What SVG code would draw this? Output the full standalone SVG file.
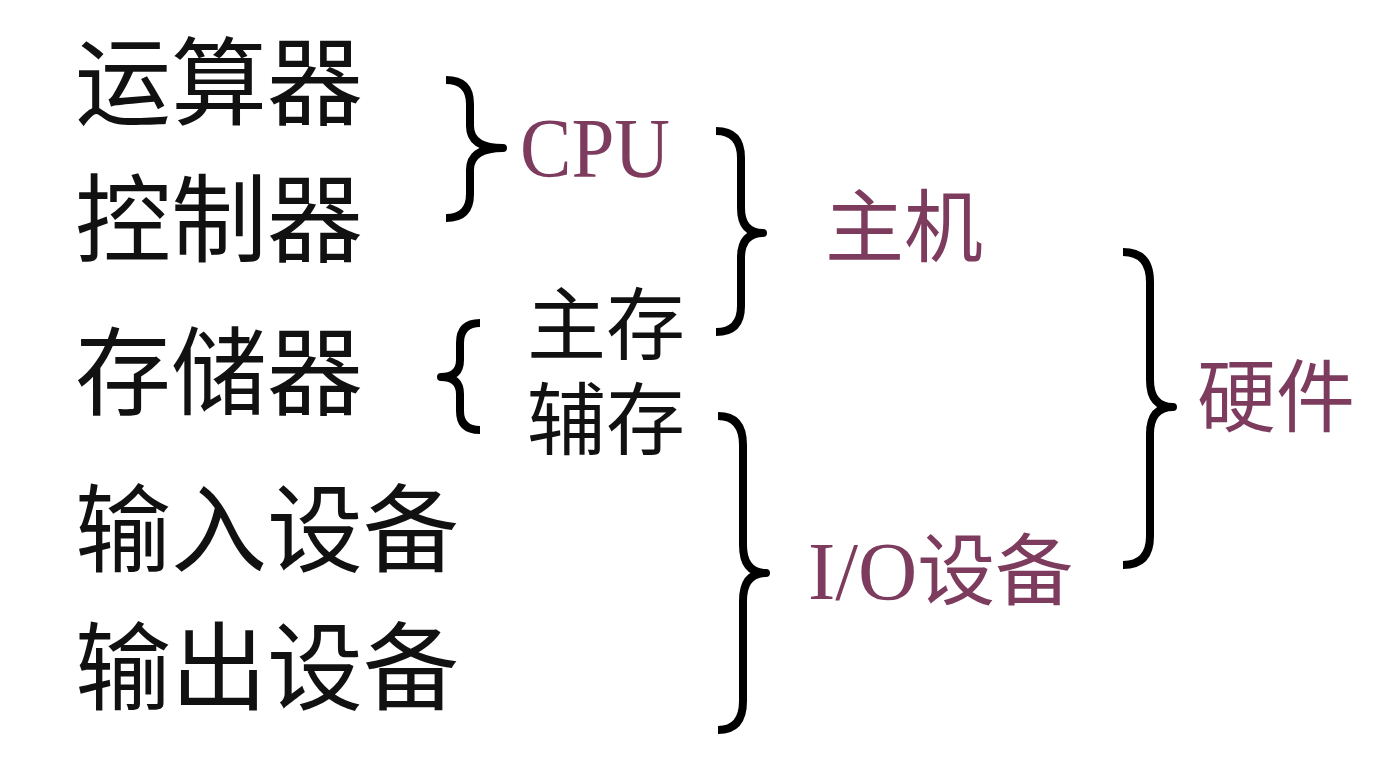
<svg xmlns="http://www.w3.org/2000/svg" width="1378" height="774" viewBox="0 0 1378 774">
<style>
.k{font-family:"Noto Sans CJK SC","Noto Sans",sans-serif;fill:#111}
.p{fill:#7d3c5e}
.s{font-family:"Liberation Serif",serif}
.b{fill:none;stroke:#000;stroke-width:8;stroke-linecap:butt;stroke-linejoin:round}
</style>
<rect width="1378" height="774" fill="#fff"/>
<g id="components">
<text class="k" x="75" y="117" font-size="96">运算器</text>
<text class="k" x="75" y="254" font-size="96">控制器</text>
<text class="k" x="75" y="407" font-size="96">存储器</text>
<text class="k" x="75" y="564" font-size="96">输入设备</text>
<text class="k" x="75" y="702" font-size="96">输出设备</text>
</g>
<g id="memory">
<text class="k" x="527" y="354" font-size="79">主存</text>
<text class="k" x="527" y="449" font-size="79">辅存</text>
</g>
<g id="cpu"><text class="s p" x="520" y="177" font-size="84" textLength="150" lengthAdjust="spacingAndGlyphs">CPU</text></g>
<g id="host"><text class="k p" x="825" y="256" font-size="79">主机</text></g>
<g id="io"><text class="p" x="808" y="599"><tspan class="s" font-size="82">I/O</tspan><tspan style="font-family:'Noto Sans CJK SC',sans-serif" font-size="78">设备</tspan></text></g>
<g id="hardware"><text class="k p" x="1197" y="426" font-size="79">硬件</text></g>
<g id="connectors">
<path class="b" d="M446 80 Q470 80 470 104 L470 126 Q470 148 503 148 Q470 148 470 170 L470 194 Q470 218 446 218"/>
<path class="b" d="M716 131 Q741 131 741 158 L741 208 Q741 233 763 233 Q741 233 741 258 L741 306 Q741 332 716 332"/>
<path class="b" d="M480 323 Q460 323 460 343 L460 360 Q460 377 441 377 Q460 377 460 394 L460 411 Q460 430 480 430"/>
<path class="b" d="M718 416 Q743 416 743 445 L743 545 Q743 573 766 573 Q743 573 743 601 L743 701 Q743 730 718 730"/>
<path class="b" d="M1123 252 Q1150 252 1150 282 L1150 380 Q1150 407 1173 407 Q1150 407 1150 434 L1150 536 Q1150 565 1123 565"/>
</g>
</svg>
